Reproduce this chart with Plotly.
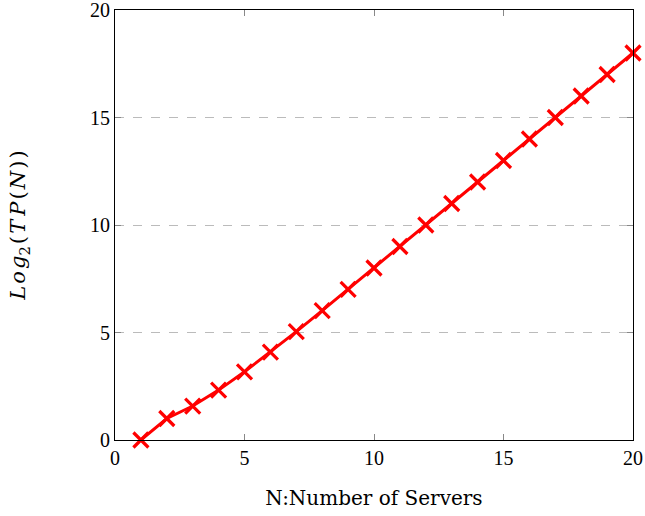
import plotly.graph_objects as go

servers = list(range(1, 21))
log2_tp = [0.0, 1.0, 1.58, 2.32, 3.17, 4.09, 5.04, 6.02, 7.01, 8.0,
           9.0, 10.0, 11.0, 12.0, 13.0, 14.0, 15.0, 16.0, 17.0, 18.0]
x_ticks = [0, 5, 10, 15, 20]
y_ticks = [0, 5, 10, 15, 20]

FONT = "Liberation Serif"
TFONT = "DejaVu Serif"
hs = "\u200a"
y_title = (f"<i>L{hs}o{hs}g</i><sub>2</sub>{hs}({hs}<i>T{hs}{hs}P</i>{hs}({hs}<i>N</i>{hs}){hs})")

fig = go.Figure()
fig.add_trace(go.Scatter(
    x=servers, y=log2_tp, mode="lines+markers",
    line=dict(color="red", width=3),
    marker=dict(symbol="x-thin", size=15, line=dict(color="red", width=3.2)),
    showlegend=False, cliponaxis=False,
))

fig.update_layout(
    width=645, height=516,
    margin=dict(l=115, r=12, t=10, b=76),
    plot_bgcolor="white", paper_bgcolor="white",
    font=dict(family=FONT, size=20, color="black"),
    xaxis=dict(range=[0, 20], tickvals=x_ticks, showgrid=False, zeroline=False,
               showline=True, linecolor="black", linewidth=1, mirror="ticks",
               ticks="inside", ticklen=6, tickcolor="#888888", automargin=False,
               ticklabeloverflow="allow",
               title=dict(text="N:Number of Servers", standoff=22,
                          font=dict(family=TFONT, size=20))),
    yaxis=dict(range=[0, 20], tickvals=y_ticks, zeroline=False,
               showgrid=True, gridcolor="#bbbbbb", griddash="dash", gridwidth=1,
               showline=True, linecolor="black", linewidth=1, mirror="ticks",
               ticks="inside", ticklen=6, tickcolor="#888888", automargin=False,
               ticklabeloverflow="allow",
               title=dict(text=y_title, standoff=58,
                          font=dict(family=TFONT, size=21))),
)

fig.write_html("out.html", config={"displayModeBar": False},
               post_script="document.body.style.margin='0';document.body.style.overflow='hidden';")
